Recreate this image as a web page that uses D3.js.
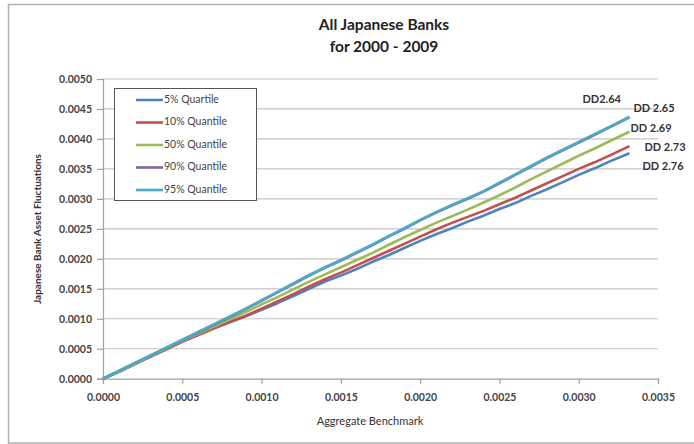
<!DOCTYPE html>
<html><head><meta charset="utf-8">
<script src="https://cdn.jsdelivr.net/npm/d3@7"></script>
<style>body{margin:0;background:#fff}svg{display:block}</style>
</head><body>
<script>
const xValues = [0,0.0001,0.0002,0.0003,0.0004,0.0005,0.0006,0.0007,0.0008,0.0009,0.0010,0.0011,0.0012,0.0013,0.0014,0.0015,0.0016,0.0017,0.0018,0.0019,0.0020,0.0021,0.0022,0.0023,0.0024,0.0025,0.0026,0.0027,0.0028,0.0029,0.0030,0.0031,0.0032,0.00332];
const q05 = [0,0.00011,0.00024,0.00037,0.00049,0.00062,0.00073,0.00084,0.00094,0.00104,0.00115,0.00126,0.00138,0.00150,0.00162,0.00172,0.00183,0.00195,0.00206,0.00218,0.00230,0.00241,0.00251,0.00262,0.00272,0.00283,0.00293,0.00305,0.00316,0.00328,0.00340,0.00351,0.00363,0.00376];
const q10 = [0,0.00012,0.00025,0.00037,0.00049,0.00062,0.00073,0.00084,0.00095,0.00105,0.00117,0.00129,0.00141,0.00154,0.00166,0.00177,0.00189,0.00201,0.00213,0.00225,0.00237,0.00249,0.00260,0.00270,0.00280,0.00291,0.00302,0.00314,0.00326,0.00338,0.00350,0.00361,0.00373,0.00388];
const q50 = [0,0.00012,0.00025,0.00038,0.00050,0.00063,0.00075,0.00087,0.00099,0.00111,0.00124,0.00136,0.00149,0.00162,0.00174,0.00186,0.00198,0.00210,0.00223,0.00236,0.00248,0.00260,0.00271,0.00282,0.00294,0.00306,0.00319,0.00333,0.00346,0.00359,0.00372,0.00384,0.00397,0.00412];
const q90 = [0,0.00013,0.00026,0.00039,0.00051,0.00064,0.00077,0.00090,0.00103,0.00116,0.00130,0.00144,0.00158,0.00172,0.00185,0.00197,0.00210,0.00223,0.00237,0.00250,0.00264,0.00277,0.00289,0.00300,0.00312,0.00326,0.00340,0.00354,0.00368,0.00381,0.00394,0.00407,0.00420,0.00436];
const q95 = [0,0.00013,0.00026,0.00039,0.00052,0.00065,0.00078,0.00091,0.00104,0.00117,0.00131,0.00145,0.00159,0.00173,0.00186,0.00198,0.00211,0.00224,0.00238,0.00251,0.00265,0.00278,0.00290,0.00301,0.00313,0.00327,0.00341,0.00355,0.00369,0.00382,0.00395,0.00408,0.00421,0.00437];
const seriesNames = ["5% Quartile","10% Quantile","50% Quantile","90% Quantile","95% Quantile"];
const seriesColors = ["#4F81BD","#C0504D","#9BBB59","#8064A2","#4BACC6"];
const xTicks = [0,0.0005,0.0010,0.0015,0.0020,0.0025,0.0030,0.0035];
const yTicks = [0,0.0005,0.0010,0.0015,0.0020,0.0025,0.0030,0.0035,0.0040,0.0045,0.0050];
const ddLabels = [
  {text:"DD2.64", dx:-47, dy:-17},
  {text:"DD 2.65", dx:4, dy:-8},
  {text:"DD 2.69", dx:1, dy:-3},
  {text:"DD 2.73", dx:15, dy:2},
  {text:"DD 2.76", dx:13, dy:14}
];
const ddSeries = [4,3,2,1,0];

const W=694,H=444;
const svg=d3.select("body").append("svg").attr("width",W).attr("height",H);
const font="Lato, 'Open Sans', sans-serif";

svg.append("defs").append("clipPath").attr("id","cc").append("rect").attr("x",8).attr("y",4).attr("width",680).attr("height",439);
svg.append("rect").attr("x",8.5).attr("y",4.5).attr("width",700).attr("height",438.5)
  .attr("fill","#fff").attr("stroke","#b0b0b0").attr("stroke-width",1.5);

const x=d3.scaleLinear().domain([0,0.0035]).range([103,658]);
const y=d3.scaleLinear().domain([0,0.005]).range([378.7,79]);

// grid
svg.append("g").selectAll("line").data(yTicks.slice(1)).join("line")
  .attr("x1",103).attr("x2",658).attr("y1",d=>y(d)).attr("y2",d=>y(d))
  .attr("stroke","#c4c4c4").attr("stroke-width",1.2);

// axes
const yAxis=svg.append("g").attr("transform","translate(103,0)")
  .call(d3.axisLeft(y).tickValues(yTicks).tickFormat(d3.format(".4f")).tickSize(6).tickPadding(5));
const xAxis=svg.append("g").attr("transform","translate(0,378.7)")
  .call(d3.axisBottom(x).tickValues(xTicks).tickFormat(d3.format(".4f")).tickSize(5).tickPadding(10));
[yAxis,xAxis].forEach(a=>{
  a.select(".domain").attr("stroke","#a0a0a0").attr("stroke-width",1.2);
  a.selectAll(".tick line").attr("stroke","#a0a0a0").attr("stroke-width",1.2);
  a.selectAll("text").attr("font-family",font).attr("font-size",10.5).attr("font-weight","bold").attr("fill","#444");
});

// lines
const series=[q05,q10,q50,q90,q95];
const line=d3.line().x((d,i)=>x(xValues[i])).y(d=>y(d));
const g=svg.append("g").attr("clip-path","url(#cc)");
series.forEach((s,k)=>{
  g.append("path").datum(s).attr("d",line).attr("fill","none")
   .attr("stroke",seriesColors[k]).attr("stroke-width",2.6).attr("stroke-linejoin","round");
});

// DD labels
const last=xValues.length-1;
ddLabels.forEach((l,i)=>{
  const s=series[ddSeries[i]];
  g.append("text").attr("x",x(xValues[last])+l.dx).attr("y",y(s[last])+l.dy).attr("dominant-baseline","middle")
   .attr("font-family",font).attr("font-size",11).attr("font-weight","bold").attr("fill","#333").text(l.text);
});

// title
const t=svg.append("text").attr("text-anchor","middle").attr("font-family",font).attr("font-weight","bold")
  .attr("font-size",15.5).attr("fill","#222");
t.append("tspan").attr("x",384).attr("y",30).text("All Japanese Banks");
t.append("tspan").attr("x",384).attr("y",52).text("for 2000 - 2009");

// axis titles
svg.append("text").attr("transform","translate(41,229) rotate(-90)").attr("text-anchor","middle")
  .attr("font-family",font).attr("font-size",10).attr("font-weight","bold").attr("fill","#333")
  .text("Japanese Bank Asset Fluctuations");
svg.append("text").attr("x",370).attr("y",425).attr("text-anchor","middle")
  .attr("font-family",font).attr("font-size",11).attr("fill","#333").text("Aggregate Benchmark");

// legend
svg.append("rect").attr("x",114.5).attr("y",88.5).attr("width",142).attr("height",112)
  .attr("fill","#fff").attr("stroke","#555").attr("stroke-width",1);
seriesNames.forEach((n,i)=>{
  const yy=100+i*22.5;
  svg.append("line").attr("x1",136).attr("x2",163).attr("y1",yy).attr("y2",yy)
    .attr("stroke",seriesColors[i]).attr("stroke-width",2.6);
  svg.append("text").attr("x",164).attr("y",yy).attr("dominant-baseline","middle")
    .attr("font-family",font).attr("font-size",10.5).attr("fill","#444").text(n);
});
</script>
</body></html>
